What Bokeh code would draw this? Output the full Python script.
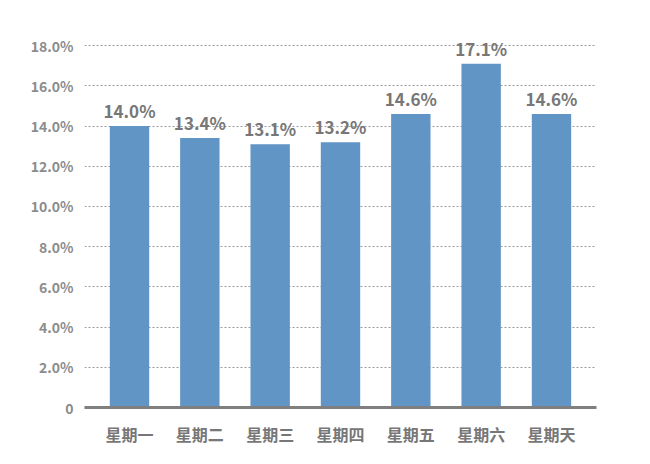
from bokeh.plotting import figure
from bokeh.models import ColumnDataSource, FactorRange, Range1d, FixedTicker
from bokeh.embed import file_html
from bokeh.resources import INLINE
from bokeh.core.properties import value

days = ["星期一", "星期二", "星期三", "星期四", "星期五", "星期六", "星期天"]
shares = [14.0, 13.4, 13.1, 13.2, 14.6, 17.1, 14.6]
y_ticks = [0, 2, 4, 6, 8, 10, 12, 14, 16, 18]
y_tick_labels = ["0", "2.0%", "4.0%", "6.0%", "8.0%", "10.0%", "12.0%", "14.0%", "16.0%", "18.0%"]

labels = [f"{v:.1f}%" for v in shares]
src = ColumnDataSource(dict(day=days, share=shares, label=labels))

FONT = "Noto Sans CJK SC"
GRAY = "#777777"

p = figure(
    x_range=FactorRange(*days, range_padding=0.14, range_padding_units="absolute"),
    y_range=Range1d(0, 19.2),
    width=630, height=448,
    output_backend="svg", toolbar_location=None,
    min_border_left=84, min_border_right=34, min_border_top=21, min_border_bottom=34,
)
p.outline_line_color = None
p.background_fill_color = "white"
p.border_fill_color = "white"

p.vbar(x="day", top="share", width=0.56, source=src, color="#6195c5", line_color=None)
p.text(x="day", y="share", text="label", source=src,
       text_align="center", text_baseline="bottom", y_offset=-3,
       text_font=value(FONT), text_font_size="17px", text_font_style="bold",
       text_color=GRAY)

p.xgrid.grid_line_color = None
p.ygrid.grid_line_color = "#9a9a9a"
p.ygrid.grid_line_dash = "2 2"
p.ygrid.grid_line_width = 1

p.yaxis.ticker = FixedTicker(ticks=y_ticks)
p.yaxis.major_label_overrides = {t: l for t, l in zip(y_ticks, y_tick_labels)}
p.yaxis.axis_line_color = None
p.yaxis.major_tick_line_color = None
p.yaxis.minor_tick_line_color = None
p.yaxis.major_label_text_font = FONT
p.yaxis.major_label_text_font_size = "14px"
p.yaxis.major_label_text_font_style = "bold"
p.yaxis.major_label_text_color = "#8c8c8c"
p.yaxis.major_label_standoff = 5

p.xaxis.axis_line_color = "#7f7f7f"
p.xaxis.axis_line_width = 3
p.xaxis.major_tick_line_color = None
p.xaxis.minor_tick_line_color = None
p.xaxis.major_label_text_font = FONT
p.xaxis.major_label_text_font_size = "16px"
p.xaxis.major_label_text_font_style = "bold"
p.xaxis.major_label_text_color = GRAY
p.xaxis.major_label_standoff = 8

open("out.html", "w").write(file_html(p, INLINE))
